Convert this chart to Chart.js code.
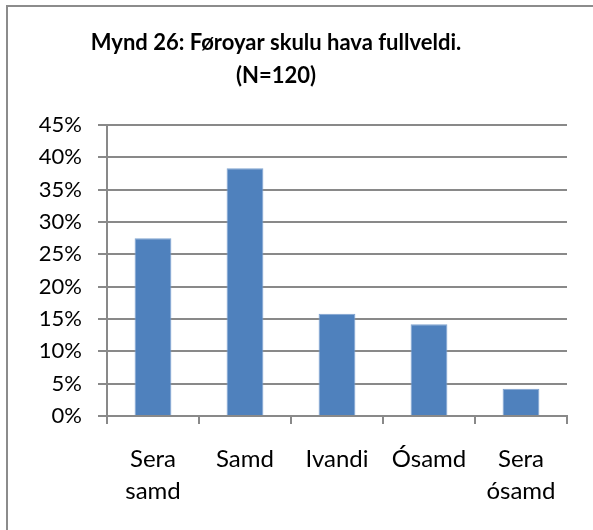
<!DOCTYPE html>
<html>
<head>
<meta charset="utf-8">
<script src="https://cdn.jsdelivr.net/npm/chart.js@4.4.1/dist/chart.umd.min.js"></script>
<style>
  html, body { margin: 0; padding: 0; background: #fff; }
  #wrap { position: relative; width: 593px; height: 530px; overflow: hidden; }
  #frame { position: absolute; left: 6px; top: 5px; width: 620px; height: 560px;
           border-left: 2px solid #8c8c8c; border-top: 2px solid #8c8c8c; }
  canvas { position: absolute; left: 0; top: 0; }
</style>
</head>
<body>
<div id="wrap">
  <div id="frame"></div>
  <canvas id="chart" width="593" height="530"></canvas>
</div>
<script>
// Svar (N=120), í prosentum
const categories = [['Sera', 'samd'], 'Samd', 'Ivandi', 'Ósamd', ['Sera', 'ósamd']];
const values = [27.5, 38.3, 15.8, 14.2, 4.2];
const yTicks = [0, 5, 10, 15, 20, 25, 30, 35, 40, 45];
const titleLines = ['Mynd 26: Føroyar skulu hava fullveldi.', '(N=120)'];

const gridGrey = '#898989';
const fontFamily = 'Lato, "Open Sans", sans-serif';

// heitið verður teknað sjálvt, so tað kann standa miðjað yvir allari myndini
const titlePlugin = {
    id: 'chartTitle',
    afterDraw(chart) {
        const c = chart.ctx;
        c.save();
        c.fillStyle = '#000';
        c.font = 'bold 22px ' + fontFamily;
        c.textAlign = 'center';
        c.textBaseline = 'middle';
        titleLines.forEach((line, i) => {
            c.fillText(line, 276, 43 + i * 33);
        });
        c.restore();
    }
};

const ctx = document.getElementById('chart').getContext('2d');

new Chart(ctx, {
    type: 'bar',
    data: {
        labels: categories,
        datasets: [{
            data: values,
            backgroundColor: '#4f81bd',
            borderColor: '#7fa3d0',
            borderWidth: 1,
            barPercentage: 0.4,
            categoryPercentage: 1
        }]
    },
    plugins: [titlePlugin],
    options: {
        responsive: false,
        animation: false,
        layout: { padding: { left: 0, right: 26, top: 125, bottom: 0 } },
        plugins: {
            legend: { display: false },
            tooltip: { enabled: false },
            title: { display: false }
        },
        scales: {
            x: {
                grid: {
                    drawOnChartArea: false,
                    drawTicks: true,
                    tickLength: 8,
                    offset: true,
                    color: gridGrey,
                    lineWidth: 2
                },
                border: { color: gridGrey, width: 2 },
                ticks: {
                    color: '#000',
                    padding: 19,
                    maxRotation: 0,
                    autoSkip: false,
                    font: { family: fontFamily, size: 24, lineHeight: 1.35 }
                },
                afterFit: (scale) => { scale.height = 114; }
            },
            y: {
                min: 0,
                max: 45,
                afterBuildTicks: (scale) => { scale.ticks = yTicks.map(v => ({ value: v })); },
                grid: { color: gridGrey, lineWidth: 2, tickLength: 9 },
                border: { color: gridGrey, width: 2 },
                ticks: {
                    color: '#000',
                    padding: 16,
                    font: { family: fontFamily, size: 22 },
                    callback: (v) => v + '%'
                },
                afterFit: (scale) => { scale.width = 107; }
            }
        }
    }
});
</script>
</body>
</html>
